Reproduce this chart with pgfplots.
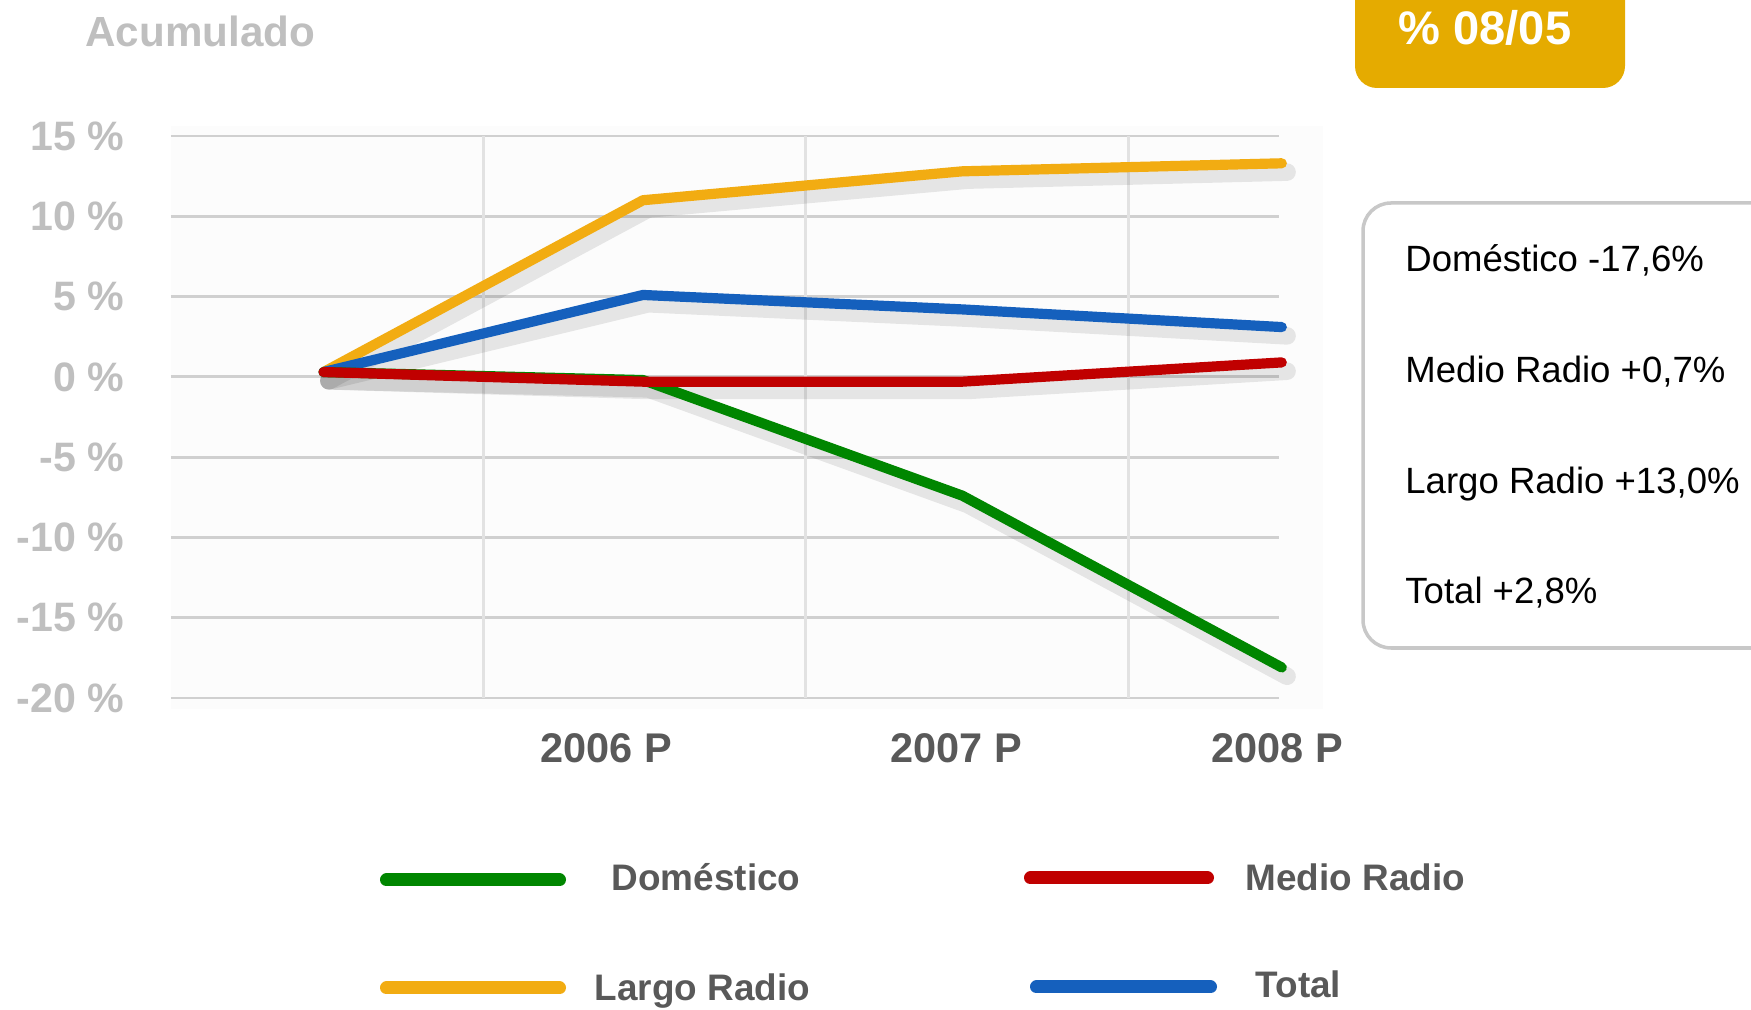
\documentclass[border=0pt]{standalone}
\usepackage{pgfplots}
\pgfplotsset{compat=1.18}
\usepackage{fontspec}
\setmainfont{Liberation Sans}
\definecolor{cLargo}{RGB}{242,172,18}
\definecolor{cTotal}{RGB}{21,96,189}
\definecolor{cMedio}{RGB}{192,0,0}
\definecolor{cDom}{RGB}{0,134,0}
\definecolor{cGold}{RGB}{229,171,0}
\definecolor{cTick}{RGB}{191,191,191}
\definecolor{cXlab}{RGB}{89,89,89}
\definecolor{cHgrid}{RGB}{208,208,208}
\definecolor{cVgrid}{RGB}{226,226,226}
\definecolor{cBox}{RGB}{200,200,200}

\begin{document}
\begin{tikzpicture}
\path[use as bounding box] (0,0) rectangle (17.51,10.10);
\begin{scope}
  \clip (0,0) rectangle (17.51,10.10);
  \fill[cGold, rounded corners=0.22cm] (13.55,9.22) rectangle (16.25,10.6);
  \draw[cBox, line width=1pt, rounded corners=0.28cm] (13.63,3.62) rectangle (18.3,8.07);
\end{scope}
\fill[black!1] (1.71,3.01) rectangle (13.23,8.84);

% title and badge
\node[anchor=west, text=cTick, font=\fontsize{12}{14}\selectfont\bfseries] at (0.73,9.79) {Acumulado};
\node[text=white, font=\fontsize{13.4}{16}\selectfont\bfseries] at (14.85,9.82) {\% 08/05};

% side box
\begin{scope}[every node/.style={anchor=west, font=\fontsize{10.4}{12}\selectfont}]
  \node at (13.93,7.50) {Doméstico -17,6\%};
  \node at (13.93,6.38) {Medio Radio +0,7\%};
  \node at (13.93,5.26) {Largo Radio +13,0\%};
  \node at (13.93,4.17) {Total +2,8\%};
\end{scope}

\begin{axis}[
  at={(1.709cm,3.12cm)}, anchor=south west,
  scale only axis, width=11.077cm, height=5.62cm,
  xmin=-0.478, xmax=2.99, ymin=-20, ymax=15,
  clip=false,
  axis line style={draw=none},
  major tick length=0pt,
  ytick={-20,-15,-10,-5,0,5,10,15},
  yticklabels={-20 \%,-15 \%,-10 \%,-5 \%,0 \%,5 \%,10 \%,15 \%},
  xtick={0.885,1.981,2.985},
  xticklabels={2006 P,2007 P,2008 P},
  extra x ticks={0.5,1.51,2.52},
  extra x tick labels={},
  extra x tick style={grid=major, major grid style={cVgrid, line width=0.9pt}},
  ymajorgrids,
  grid style={cHgrid, line width=0.8pt},
  yticklabel style={font=\fontsize{11.7}{14}\selectfont\bfseries, text=cTick, anchor=east, inner sep=0pt, xshift=-0.46cm},
  xticklabel style={font=\fontsize{11.8}{14}\selectfont\bfseries, text=cXlab, anchor=center, inner sep=0pt, yshift=-0.5cm},
  every axis plot/.append style={line cap=round, line join=round},
]
% shadows
\addplot[black, opacity=0.09, line width=5pt, xshift=1.5pt, yshift=-2.5pt, forget plot]
  coordinates {(0,0.3)(1,11.0)(2,12.8)(3,13.3)};
\addplot[black, opacity=0.09, line width=5pt, xshift=1.5pt, yshift=-2.5pt, forget plot]
  coordinates {(0,0.3)(1,5.1)(2,4.2)(3,3.1)};
\addplot[black, opacity=0.09, line width=5pt, xshift=1.5pt, yshift=-2.5pt, forget plot]
  coordinates {(0,0.3)(1,-0.2)(2,-7.4)(3,-18.1)};
\addplot[black, opacity=0.09, line width=5pt, xshift=1.5pt, yshift=-2.5pt, forget plot]
  coordinates {(0,0.3)(1,-0.3)(2,-0.3)(3,0.9)};
% series
\addplot[cLargo, line width=2.9pt] coordinates {(0,0.3)(1,11.0)(2,12.8)(3,13.3)};
\addplot[cTotal, line width=2.9pt] coordinates {(0,0.3)(1,5.1)(2,4.2)(3,3.1)};
\addplot[cDom, line width=2.9pt] coordinates {(0,0.3)(1,-0.2)(2,-7.4)(3,-18.1)};
\addplot[cMedio, line width=2.9pt] coordinates {(0,0.3)(1,-0.3)(2,-0.3)(3,0.9)};
\end{axis}

% legend
\begin{scope}[line width=3.7pt, line cap=round]
  \draw[cDom] (3.865,1.30) -- (5.595,1.30);
  \draw[cMedio] (10.305,1.32) -- (12.075,1.32);
  \draw[cLargo] (3.865,0.22) -- (5.595,0.22);
  \draw[cTotal] (10.365,0.23) -- (12.105,0.23);
\end{scope}
\begin{scope}[every node/.style={anchor=base west, inner sep=0pt, text=cXlab, font=\fontsize{10.5}{12}\selectfont\bfseries}]
  \node at (6.11,1.19) {Doméstico};
  \node at (12.45,1.19) {Medio Radio};
  \node at (5.94,0.09) {Largo Radio};
  \node at (12.55,0.12) {Total};
\end{scope}
\end{tikzpicture}
\end{document}
